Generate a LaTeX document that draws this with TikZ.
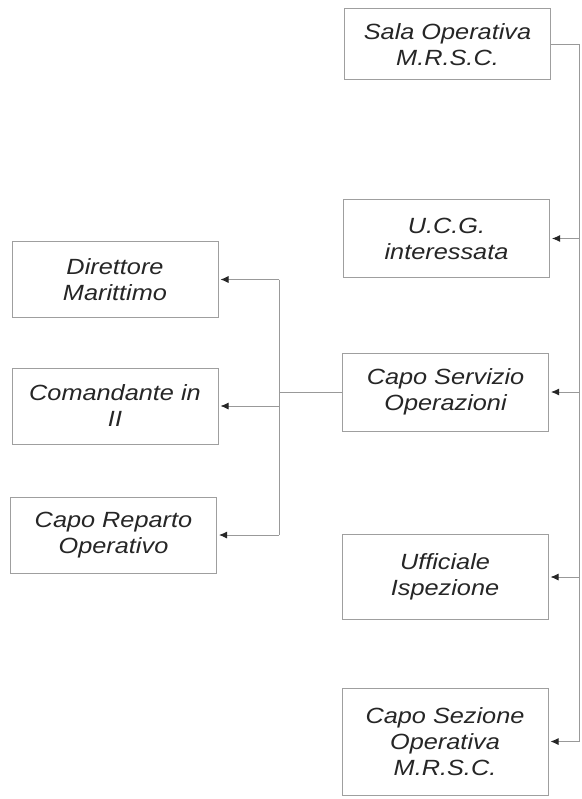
\documentclass[tikz,border=0pt]{standalone}
\usepackage{fontspec}
\setsansfont{Liberation Sans}[FakeStretch=1.15]
\usetikzlibrary{arrows.meta}
\tikzstyle{box}=[rectangle,draw=gray!75,fill=white,line width=1pt,minimum width=206pt,minimum height=76pt,align=center,text=black!85]
\tikzstyle{link}=[draw=gray!80,line width=0.9pt]
\begin{document}
\begin{tikzpicture}[x=1pt,y=-1pt,font=\sffamily\itshape\fontsize{22}{26}\selectfont,
  >={Latex[length=8pt,width=7pt,color=black!85]}]
  \useasboundingbox[fill=white] (0,0) rectangle (581,799);

  % right column
  \node[box,minimum height=71pt] (sala) at (447.5,44.5) {Sala Operativa\\M.R.S.C.};
  \node[box,minimum height=77pt] (ucg) at (446.5,238.5) {U.C.G.\\interessata};
  \node[box,minimum height=78pt] (serv) at (445.5,392) {Capo Servizio\\Operazioni};
  \node[box,minimum height=85pt] (uff) at (445,577) {Ufficiale\\Ispezione};
  \node[box,minimum height=107pt] (sez) at (445,741.5) {Capo Sezione\\Operativa\\M.R.S.C.};

  % left column
  \node[box,minimum height=75pt] (dir) at (115,279.5) {Direttore\\Marittimo};
  \node[box] (com) at (115,406) {Comandante in\\II};
  \node[box] (rep) at (113.5,535) {Capo Reparto\\Operativo};

  \coordinate (rbus) at (579,0);
  \coordinate (lbus) at (279,0);

  \draw[link] (sala.east) -| (rbus |- sez.east);
  \draw[link,->] (rbus |- ucg.east) -- ([xshift=2pt] ucg.east);
  \draw[link,->] (rbus |- serv.east) -- ([xshift=2pt] serv.east);
  \draw[link,->] (rbus |- uff.east) -- ([xshift=2pt] uff.east);
  \draw[link,->] (rbus |- sez.east) -- ([xshift=2pt] sez.east);

  \draw[link] (serv.west) -- (lbus |- serv.west);
  \draw[link] (lbus |- dir.east) -- (lbus |- rep.east);
  \draw[link,->] (lbus |- dir.east) -- ([xshift=2pt] dir.east);
  \draw[link,->] (lbus |- com.east) -- ([xshift=2pt] com.east);
  \draw[link,->] (lbus |- rep.east) -- ([xshift=2pt] rep.east);
\end{tikzpicture}
\end{document}
